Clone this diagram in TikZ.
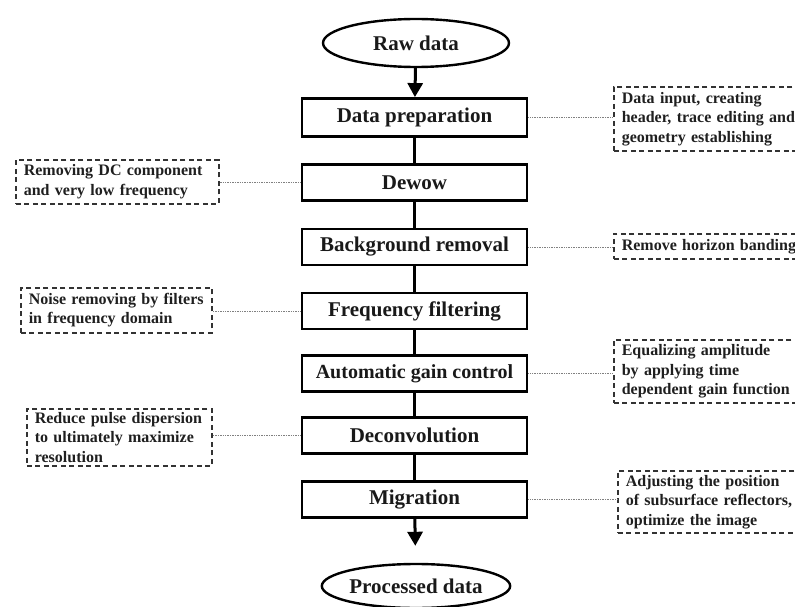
\documentclass[tikz,border=0pt]{standalone}
\usepackage{fontspec}
\setmainfont{Liberation Serif}
\usetikzlibrary{shapes.geometric,arrows.meta}
\begin{document}
\begin{tikzpicture}[x=1pt,y=-1pt,
  mainbox/.style={draw=black,line width=2.8pt,minimum width=225pt,minimum height=36pt,inner sep=0pt,
    font=\fontsize{21}{25}\selectfont\bfseries,text=black!90},
  term/.style={ellipse,draw=black,line width=2.4pt,minimum width=186pt,minimum height=48pt,inner sep=0pt,
    font=\fontsize{21}{25}\selectfont\bfseries,text=black!90},
  note/.style={draw=black!80,line width=1.6pt,dash pattern=on 5pt off 3.5pt,inner xsep=8pt,inner ysep=0pt,
    align=left,anchor=north west,font=\fontsize{16}{19.5}\selectfont\bfseries,text=black!88},
  link/.style={draw=black!50,line width=0.9pt,dash pattern=on 1pt off 0.7pt},
  flow/.style={line width=2.8pt},
  flowarrow/.style={line width=3pt,-{Triangle[width=15pt,length=14pt]}}
]
\useasboundingbox (0,0) rectangle (795,607);
\clip (0,0) rectangle (795,607);

% main column
\node[term] (raw) at (416,43) {Raw data};
\node[mainbox,minimum height=38pt] (dp) at (414.5,117.5) {Data preparation};
\node[mainbox] (dw) at (414.5,182.5) {Dewow};
\node[mainbox] (br) at (414.5,247) {Background removal};
\node[mainbox] (ff) at (414.5,311) {Frequency filtering};
\node[mainbox,font=\fontsize{20}{24}\selectfont\bfseries] (agc) at (414.5,373.5) {Automatic gain control};
\node[mainbox] (dc) at (414.5,435.5) {Deconvolution};
\node[mainbox] (mg) at (414.5,499.5) {Migration};
\node[term,minimum width=182pt,minimum height=44pt] (proc) at (416,586) {Processed data};

\draw[flowarrow] (raw) -- (dp);
\draw[flow] (dp) -- (dw);
\draw[flow] (dw) -- (br);
\draw[flow] (br) -- (ff);
\draw[flow] (ff) -- (agc);
\draw[flow] (agc) -- (dc);
\draw[flow] (dc) -- (mg);
\draw[flowarrow,shorten >=17pt] (mg) -- (proc);

% notes
\node[note,text width=190pt,minimum height=64pt] (n1) at (613,86)
  {Data input, creating\\header, trace editing and\\geometry establishing};
\node[note,text width=187pt,minimum height=44pt] (n2) at (15,159)
  {Removing DC component\\and very low frequency};
\node[note,text width=190pt,minimum height=25pt] (n3) at (613,233)
  {Remove horizon banding};
\node[note,text width=175pt,minimum height=45pt] (n4) at (20,287)
  {Noise removing by filters\\in frequency domain};
\node[note,text width=190pt,minimum height=63pt] (n5) at (613,339)
  {Equalizing amplitude\\by applying time\\dependent gain function};
\node[note,text width=169pt,minimum height=57pt] (n6) at (26,408)
  {Reduce pulse dispersion\\to ultimately maximize\\resolution};
\node[note,text width=190pt,minimum height=62pt] (n7) at (617,470)
  {Adjusting the position\\of subsurface reflectors,\\optimize the image};

% links
\draw[link] (dp.east) -- (dp.east -| n1.west);
\draw[link] (dw.west) -- (dw.west -| n2.east);
\draw[link] (br.east) -- (br.east -| n3.west);
\draw[link] (ff.west) -- (ff.west -| n4.east);
\draw[link] (agc.east) -- (agc.east -| n5.west);
\draw[link] (dc.west) -- (dc.west -| n6.east);
\draw[link] (mg.east) -- (mg.east -| n7.west);
\end{tikzpicture}
\end{document}
